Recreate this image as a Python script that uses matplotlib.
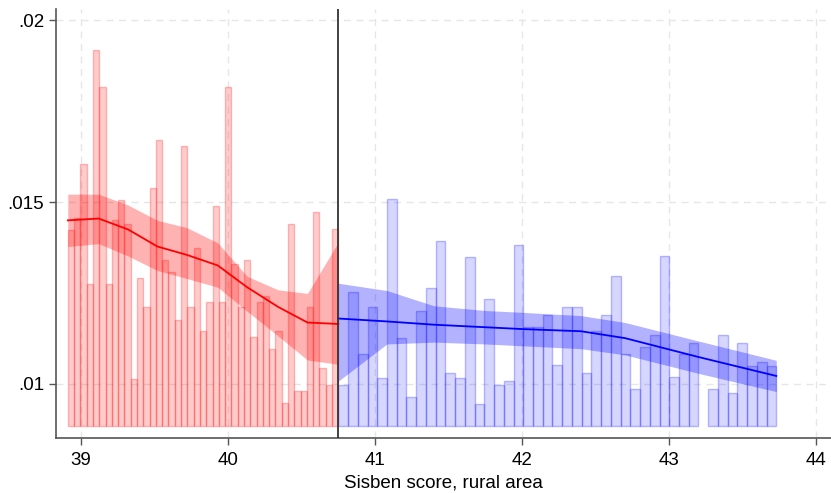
import numpy as np
import matplotlib
matplotlib.use("Agg")
import matplotlib.pyplot as plt

plt.rcParams['font.family'] = ['Liberation Sans', 'DejaVu Sans']

# binned means, left of the cutoff (red) and right of it (blue)
left_means = [0.01423, 0.01457, 0.01605, 0.01275, 0.01918, 0.01818, 0.01275, 0.01450,
              0.01505, 0.01441, 0.01014, 0.01292, 0.01211, 0.01539, 0.01671, 0.01342,
              0.01309, 0.01176, 0.01655, 0.01211, 0.01375, 0.01146, 0.01225, 0.01490,
              0.01225, 0.01818, 0.01330, 0.01211, 0.01342, 0.01128, 0.01225, 0.01243,
              0.01096, 0.01145, 0.00948, 0.01441, 0.00981, 0.00981, 0.01211, 0.01473,
              0.01045, 0.00997, 0.01425]
right_means = [0.00997, 0.01254, 0.01082, 0.01211, 0.01017, 0.01510, 0.01126, 0.00964,
               0.01200, 0.01264, 0.01392, 0.01030, 0.01017, 0.01349, 0.00944, 0.01233,
               0.00997, 0.01008, 0.01381, 0.01156, 0.01156, 0.01190, 0.01052, 0.01211,
               0.01211, 0.01030, 0.01146, 0.01190, 0.01296, 0.01082, 0.00985, 0.01103,
               0.01135, 0.01351, 0.01019, 0.01082, 0.01114, np.nan, 0.00985, 0.01135,
               0.00976, 0.01114, 0.01050, 0.01061, 0.01050]

# local fit with confidence band
left_x = [38.91, 39.12, 39.32, 39.52, 39.72, 39.93, 40.13, 40.34, 40.54, 40.75]
left_fit = [0.01450, 0.01455, 0.01425, 0.01378, 0.01355, 0.01326, 0.01266, 0.01212, 0.01169, 0.01165]
left_hi = [0.01522, 0.01522, 0.01492, 0.01450, 0.01430, 0.01388, 0.01296, 0.01259, 0.01249, 0.01390]
left_lo = [0.01378, 0.01386, 0.01352, 0.01312, 0.01290, 0.01266, 0.01200, 0.01132, 0.01066, 0.01054]

right_x = [40.75, 41.08, 41.4, 41.75, 42.0, 42.4, 42.7, 43.2, 43.728]
right_fit = [0.01180, 0.01172, 0.01163, 0.01156, 0.01151, 0.01145, 0.01126, 0.01074, 0.01022]
right_hi = [0.01277, 0.01257, 0.01215, 0.01202, 0.01197, 0.01188, 0.01169, 0.01118, 0.01065]
right_lo = [0.01008, 0.01110, 0.01115, 0.01110, 0.01105, 0.01097, 0.01080, 0.01029, 0.00979]

cutoff = 40.75
base = 0.00884

fig = plt.figure(figsize=(8.31, 4.93), dpi=100)
ax = fig.add_axes([0.0674, 0.111, 0.9326, 0.8705])

# bars
le = np.linspace(38.91, cutoff, len(left_means) + 1)
re = np.linspace(cutoff, 43.728, len(right_means) + 1)
lv = np.array(left_means)
rv = np.array(right_means)
ax.bar(le[:-1], lv - base, width=np.diff(le), bottom=base, align='edge',
       facecolor=(1, 0, 0, 0.2), edgecolor=(1, 0, 0, 0.25), linewidth=1.0, zorder=2)
ax.bar(re[:-1], rv - base, width=np.diff(re), bottom=base, align='edge',
       facecolor=(0, 0, 1, 0.16), edgecolor=(0, 0, 1, 0.25), linewidth=1.0, zorder=2)

# confidence bands and fits
ax.fill_between(left_x, left_lo, left_hi, color=(1, 0, 0), alpha=0.3, lw=0, zorder=3)
ax.fill_between(right_x, right_lo, right_hi, color=(0, 0, 1), alpha=0.3, lw=0, zorder=3)
ax.plot(left_x, left_fit, color='red', lw=1.3, zorder=4)
ax.plot(right_x, right_fit, color='blue', lw=1.3, zorder=4)

ax.axvline(cutoff, color='#333333', lw=1.3, zorder=5)

ax.set_xlim(38.83, 44.10)
ax.set_ylim(0.008506, 0.02031)
ax.set_xticks([39, 40, 41, 42, 43, 44])
ax.set_yticks([0.01, 0.015, 0.02])
ax.set_yticklabels(['.01', '.015', '.02'])
ax.tick_params(axis='both', labelsize=13.5, color='#555555', length=5, width=1)
ax.tick_params(axis='x', pad=5)
ax.grid(True, color='#e6e6e6', linestyle=(0, (5, 4)), lw=1, zorder=0)
ax.set_axisbelow(True)

for s in ['top', 'right']:
    ax.spines[s].set_visible(False)
for s in ['left', 'bottom']:
    ax.spines[s].set_color('#555555')
    ax.spines[s].set_linewidth(1.2)

ax.set_xlabel('Sisben score, rural area', fontsize=13.5, labelpad=4)

fig.savefig('out.png', dpi=100)
